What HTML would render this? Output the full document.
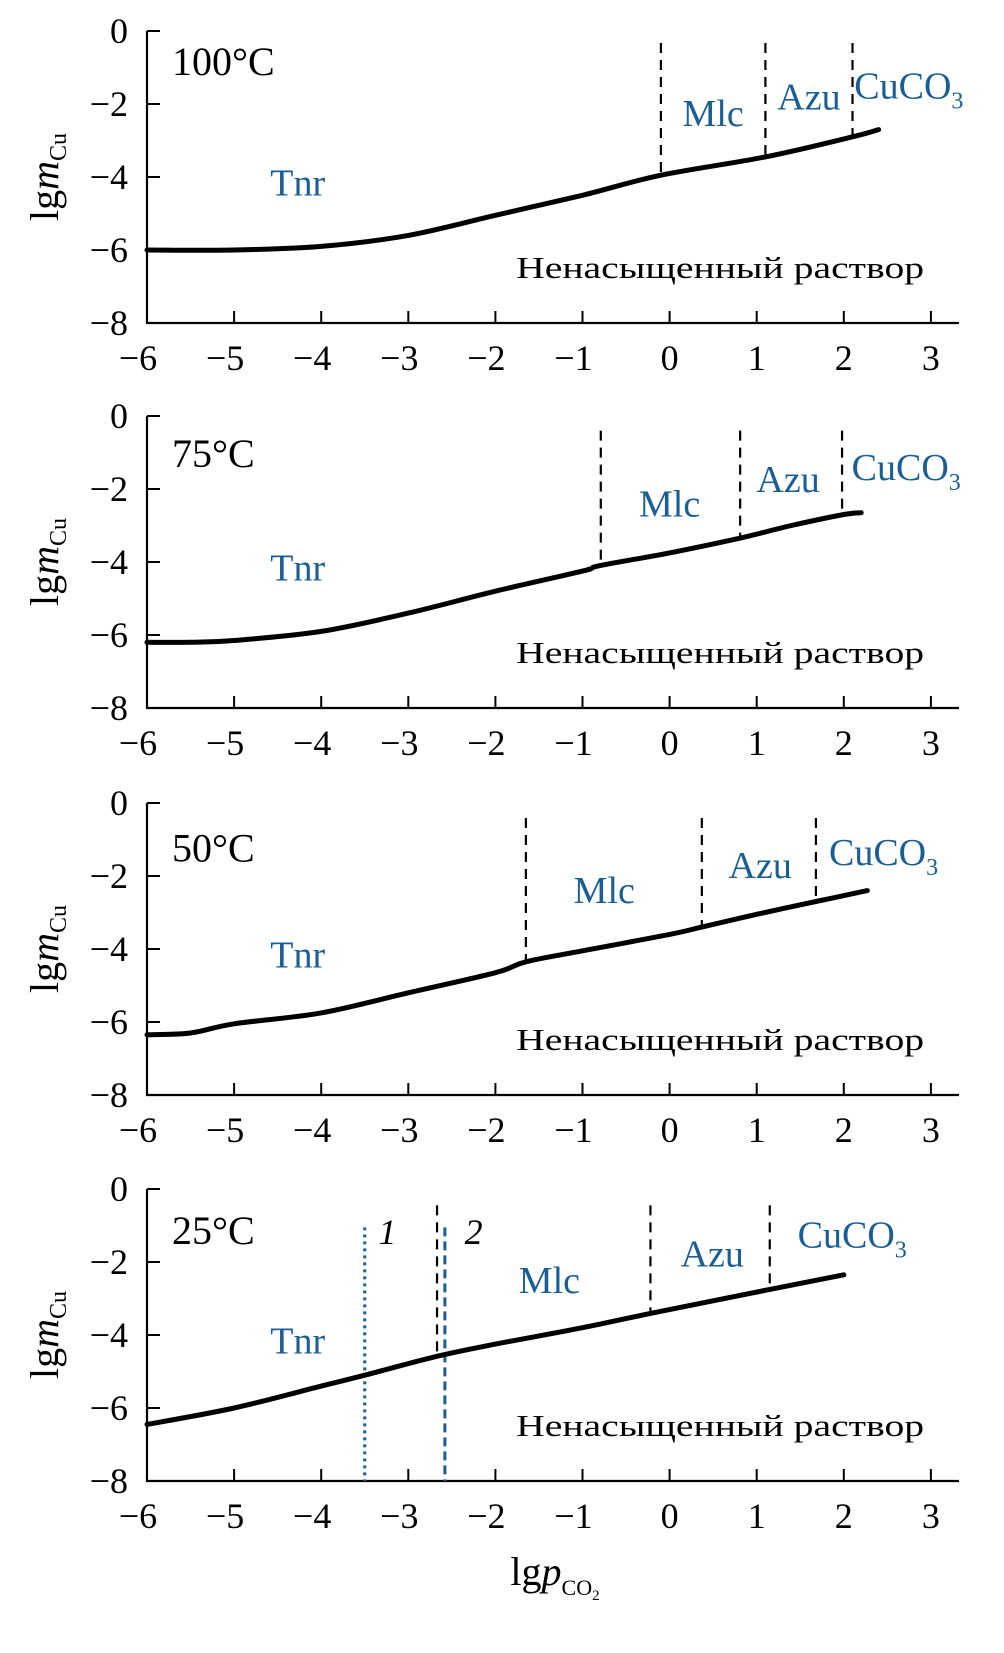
<!DOCTYPE html>
<html><head><meta charset="utf-8"><style>
html,body{margin:0;padding:0;background:#fff;}
svg{display:block;font-family:"Liberation Serif",serif;}
.tick{font-size:36px;fill:#000;}
.blue{fill:#1a5e96;}
</style></head>
<body>
<svg id="chart" width="1004" height="1653" viewBox="0 0 1004 1653" xmlns="http://www.w3.org/2000/svg"></svg>
<script>
const xTicks = [-6,-5,-4,-3,-2,-1,0,1,2,3];
const yTicks = [0,-2,-4,-6,-8];
const temps = ["100°C","75°C","50°C","25°C"];
const curve100x = [-6,-5,-4,-3,-2,-1,-0.1,1.1,2.1,2.4];
const curve100y = [-6.0,-6.0,-5.9,-5.6,-5.05,-4.5,-3.95,-3.45,-2.9,-2.7];
const curve75x = [-6,-5.5,-5,-4,-3,-2,-1,-0.8,0,0.8,1.4,2.0,2.2];
const curve75y = [-6.2,-6.2,-6.15,-5.9,-5.4,-4.8,-4.25,-4.1,-3.75,-3.35,-3.0,-2.7,-2.65];
const curve50x = [-6,-5.5,-5,-4,-3,-2,-1.65,-1,0,0.37,1,1.68,2.27];
const curve50y = [-6.35,-6.3,-6.05,-5.75,-5.2,-4.65,-4.35,-4.05,-3.6,-3.4,-3.05,-2.7,-2.4];
const curve25x = [-6,-5,-4,-3.5,-2.7,-2,-1,-0.2,1.15,2.0];
const curve25y = [-6.45,-6.0,-5.4,-5.1,-4.6,-4.25,-3.8,-3.4,-2.75,-2.35];
const boundaries100 = [-0.1,1.1,2.1];
const boundaries75 = [-0.79,0.81,1.98];
const boundaries50 = [-1.65,0.37,1.68];
const boundaries25 = [-2.67,-0.22,1.15];
const dashTop = [-0.33,-0.4,-0.41,-0.45];
const mlcPos = [[0.5,-2.6],[0.0,-2.75],[-0.75,-2.74],[-1.38,-2.85]];
const azuPos = [[1.6,-2.15],[1.36,-2.08],[1.04,-2.05],[0.49,-2.13]];
const cucoPos = [[2.12,-1.85],[2.09,-1.75],[1.83,-1.7],[1.47,-1.6]];
const tnrPos = [-4.27,-4.5];
const tempLabelY = [-1.2,-1.4,-1.6,-1.5];
const line1X = -3.5, line2X = -2.58, blueTop = -1.05;

const curvesX=[curve100x,curve75x,curve50x,curve25x];
const curvesY=[curve100y,curve75y,curve50y,curve25y];
const bounds=[boundaries100,boundaries75,boundaries50,boundaries25];
const panelTop=[31,416,803,1189];
const X0=147, XU=87.1, YU=36.5;
const sx=v=>X0+(v+6)*XU;
const NS="http://www.w3.org/2000/svg";
const svg=document.getElementById('chart');
function mk(tag,attrs,parent){const e=document.createElementNS(NS,tag);for(const k in attrs)e.setAttribute(k,attrs[k]);(parent||svg).appendChild(e);return e;}
function smooth(pts){
  let d='M'+pts[0][0].toFixed(1)+' '+pts[0][1].toFixed(1);
  for(let i=0;i<pts.length-1;i++){
    const p0=pts[Math.max(0,i-1)],p1=pts[i],p2=pts[i+1],p3=pts[Math.min(pts.length-1,i+2)];
    const c1=[p1[0]+(p2[0]-p0[0])/6,p1[1]+(p2[1]-p0[1])/6];
    const c2=[p2[0]-(p3[0]-p1[0])/6,p2[1]-(p3[1]-p1[1])/6];
    d+=` C${c1[0].toFixed(1)} ${c1[1].toFixed(1)} ${c2[0].toFixed(1)} ${c2[1].toFixed(1)} ${p2[0].toFixed(1)} ${p2[1].toFixed(1)}`;
  }
  return d;
}

for(let p=0;p<4;p++){
  const top=panelTop[p];
  const sy=v=>top-v*YU;
  const g=mk('g',{});
  
  
  const ax=mk('path',{d:`M${X0} ${top} V${sy(-8)} H959`,stroke:'#000','stroke-width':2.2,fill:'none'},g);
  
  
  xTicks.forEach(t=>{
    mk('line',{x1:sx(t),x2:sx(t),y1:sy(-8),y2:sy(-8)-12,stroke:'#000','stroke-width':2},g);
    const tx=mk('text',{x:sx(t)-(t<0?9:0),y:sy(-8)+47,'text-anchor':'middle',class:'tick'},g);
    tx.textContent=(t<0?'\u2212'+(-t):String(t));
    
    
  });
  yTicks.forEach(t=>{
    mk('line',{x1:X0,x2:X0+13,y1:sy(t),y2:sy(t),stroke:'#000','stroke-width':2},g);
    const tx=mk('text',{x:128,y:sy(t)+12,'text-anchor':'end',class:'tick'},g);
    tx.textContent=(t<0?'\u2212'+(-t):String(t));
    
    
  });
  const yt=mk('text',{transform:`translate(58 ${sy(-4)}) rotate(-90)`,'text-anchor':'middle','font-size':40},g);
  yt.innerHTML='lg<tspan font-style="italic">m</tspan><tspan font-size="24" dy="8">Cu</tspan>';
  
  
  bounds[p].forEach((b,i)=>{
    const cx=curvesX[p], cy=curvesY[p];
    let yv=cy[cy.length-1];
    for(let k=0;k<cx.length-1;k++){if(b>=cx[k]&&b<=cx[k+1]){yv=cy[k]+(cy[k+1]-cy[k])*(b-cx[k])/(cx[k+1]-cx[k]);}}
    const l=mk('line',{x1:sx(b),x2:sx(b),y1:sy(dashTop[p]),y2:sy(yv),stroke:'#000','stroke-width':2.2,'stroke-dasharray':'10 7'},g);
    
    
  });
  if(p===3){
    const l1=mk('line',{x1:sx(line1X),x2:sx(line1X),y1:sy(blueTop),y2:sy(-8),stroke:'#1a5e96','stroke-width':3,'stroke-dasharray':'3 4'},g);
    
    
    const l2=mk('line',{x1:sx(line2X),x2:sx(line2X),y1:sy(blueTop),y2:sy(-8),stroke:'#1a5e96','stroke-width':3,'stroke-dasharray':'9 5'},g);
    
    
    const t1=mk('text',{x:sx(-3.24),y:sy(-1.5),'font-size':36,'font-style':'italic','text-anchor':'middle'},g);
    t1.textContent='1';
    
    
    const t2=mk('text',{x:sx(-2.25),y:sy(-1.5),'font-size':36,'font-style':'italic','text-anchor':'middle'},g);
    t2.textContent='2';
    
    
  }
  const pts=curvesX[p].map((v,i)=>[sx(v),sy(curvesY[p][i])]);
  const c=mk('path',{d:smooth(pts),stroke:'#000','stroke-width':5,fill:'none','stroke-linecap':'round','stroke-linejoin':'round'},g);
  
  
  const tl=mk('text',{x:172,y:sy(tempLabelY[p]),'font-size':40},g);
  tl.textContent=temps[p];
  
  
  const tn=mk('text',{x:sx(tnrPos[0]),y:sy(tnrPos[1]),'font-size':38,'text-anchor':'middle',class:'blue'},g);
  tn.textContent='Tnr';
  
  
  const ml=mk('text',{x:sx(mlcPos[p][0]),y:sy(mlcPos[p][1]),'font-size':38,'text-anchor':'middle',class:'blue'},g);
  ml.textContent='Mlc';
  
  
  const az=mk('text',{x:sx(azuPos[p][0]),y:sy(azuPos[p][1]),'font-size':38,'text-anchor':'middle',class:'blue'},g);
  az.textContent='Azu';
  
  
  const cu=mk('text',{x:sx(cucoPos[p][0]),y:sy(cucoPos[p][1]),'font-size':38,class:'blue'},g);
  cu.innerHTML='CuCO<tspan font-size="24" dy="10">3</tspan>';
  
  
  const un=mk('text',{x:sx(0.58),y:sy(-6.77),'font-size':31,'text-anchor':'middle',textLength:408,lengthAdjust:'spacingAndGlyphs'},g);
  un.textContent='Ненасыщенный раствор';
  
  
}
const xt=mk('text',{x:555,y:1585,'text-anchor':'middle','font-size':40});
xt.innerHTML='lg<tspan font-style="italic">p</tspan><tspan font-size="22" dy="10">CO</tspan><tspan font-size="15" dy="5">2</tspan>';


</script>
</body></html>
